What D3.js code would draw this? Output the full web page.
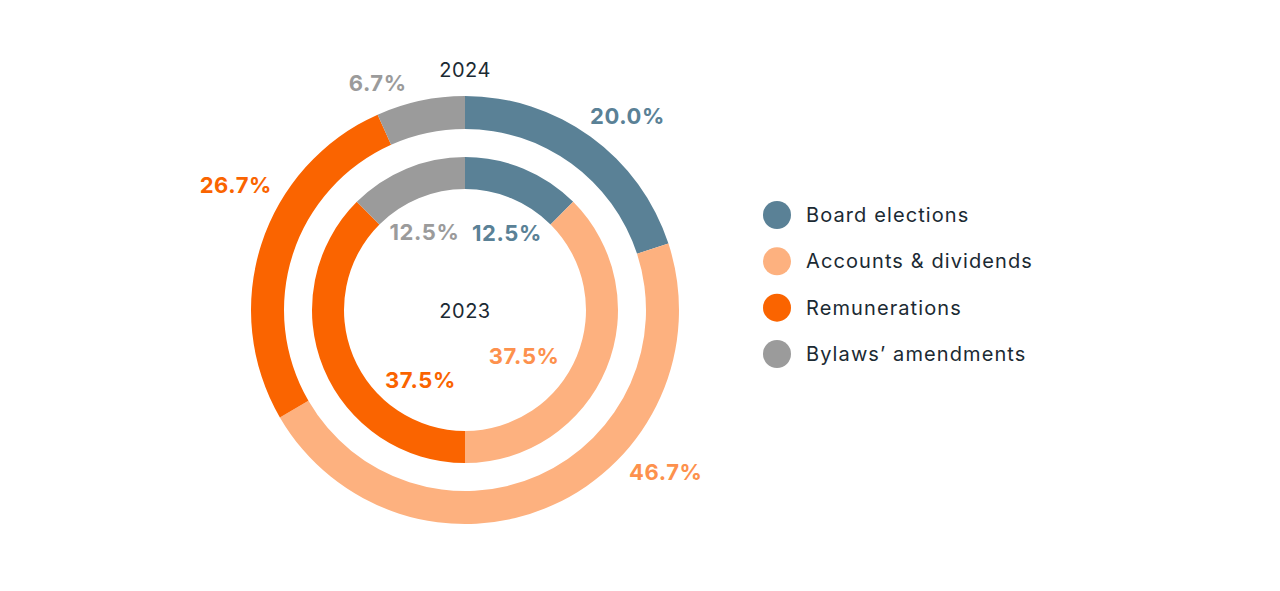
<!DOCTYPE html>
<html>
<head>
<meta charset="utf-8">
<script src="https://cdn.jsdelivr.net/npm/d3@7"></script>
<style>
  html, body { margin: 0; padding: 0; background: #ffffff; }
  svg { display: block; }
</style>
</head>
<body>
<svg id="chart" width="1280" height="591"></svg>
<script>
// ---- data ----
const categories = ["Board elections", "Accounts & dividends", "Remunerations", "Bylaws\u2019 amendments"];
const values2024 = [20.0, 46.7, 26.7, 6.7];
const values2023 = [12.5, 37.5, 37.5, 12.5];
const yearLabels = ["2024", "2023"];

// ---- styles ----
const sliceColors = ["#5a8196", "#fdb17f", "#fa6400", "#9b9b9b"];
const labelColors = ["#5a8196", "#fd914d", "#fa6400", "#9b9b9b"];
const textColor = "#1b2a33";
const fontFamily = "Inter, 'Open Sans', 'DejaVu Sans', sans-serif";

const cx = 465, cy = 310;
const outer = { inner: 181, outer: 214 };
const inner = { inner: 121, outer: 153 };

// label placement tweaks (angle shift in degrees, radius) per slice
const outerLabelLayout = [[4, 253], [-27, 258], [10.7, 261], [-9, 243]];
const innerLabelLayout = [[6, 88], [15.5, 75], [-35, 83], [-5, 88]];

const svg = d3.select("#chart");
const g = svg.append("g").attr("transform", `translate(${cx},${cy})`);

const pie = d3.pie().sort(null).value(d => d);

function drawRing(values, radii, layout) {
  const arcs = pie(values);
  const arc = d3.arc().innerRadius(radii.inner).outerRadius(radii.outer);
  const ring = g.append("g");
  ring.selectAll("path")
    .data(arcs)
    .join("path")
    .attr("d", arc)
    .attr("fill", (d, i) => sliceColors[i]);
  ring.selectAll("text")
    .data(arcs)
    .join("text")
    .attr("transform", (d, i) => {
      const mid = (d.startAngle + d.endAngle) / 2 + layout[i][0] * Math.PI / 180;
      const r = layout[i][1];
      return `translate(${r * Math.sin(mid)},${-r * Math.cos(mid)})`;
    })
    .attr("text-anchor", "middle")
    .attr("dominant-baseline", "central")
    .attr("font-family", fontFamily)
    .attr("font-weight", 700)
    .attr("font-size", 22)
    .attr("letter-spacing", 0.6)
    .attr("fill", (d, i) => labelColors[i])
    .text(d => d3.format(".1f")(d.data) + "%");
}

drawRing(values2024, outer, outerLabelLayout);
drawRing(values2023, inner, innerLabelLayout);

// year labels
g.append("text")
  .attr("x", 0).attr("y", -240)
  .attr("text-anchor", "middle").attr("dominant-baseline", "central")
  .attr("font-family", fontFamily).attr("font-size", 20).attr("fill", textColor)
  .attr("letter-spacing", 0.5)
  .text(yearLabels[0]);
g.append("text")
  .attr("x", 0).attr("y", 1)
  .attr("text-anchor", "middle").attr("dominant-baseline", "central")
  .attr("font-family", fontFamily).attr("font-size", 20).attr("fill", textColor)
  .attr("letter-spacing", 0.5)
  .text(yearLabels[1]);

// legend
const legendY = d3.scalePoint().domain(categories).range([215, 354]);
const legend = svg.append("g");
const items = legend.selectAll("g")
  .data(categories)
  .join("g")
  .attr("transform", d => `translate(777,${legendY(d)})`);
items.append("circle").attr("r", 14).attr("fill", (d, i) => sliceColors[i]);
items.append("text")
  .attr("x", 29)
  .attr("dominant-baseline", "central")
  .attr("font-family", fontFamily)
  .attr("font-size", 20)
  .attr("letter-spacing", 1.1)
  .attr("fill", textColor)
  .text(d => d);
</script>
</body>
</html>
